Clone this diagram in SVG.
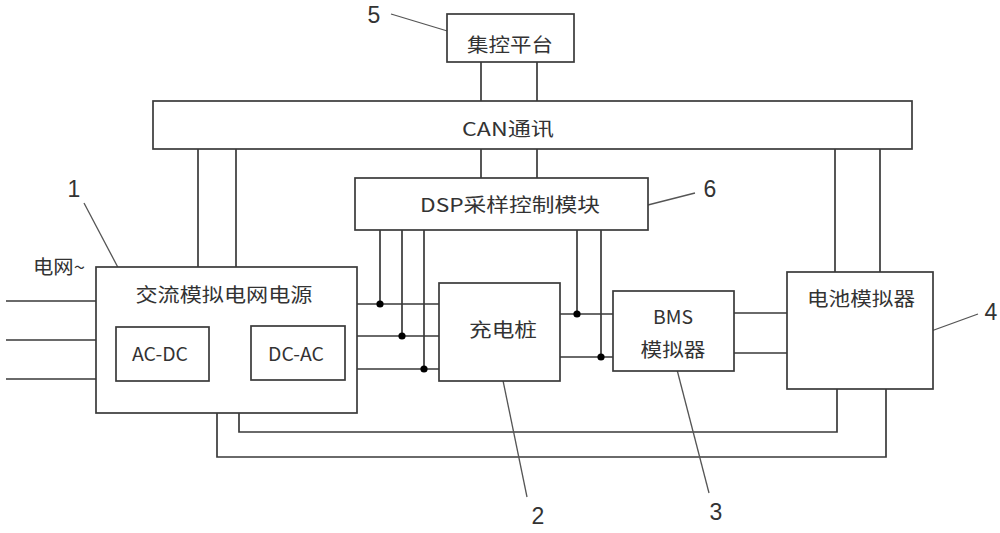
<svg xmlns="http://www.w3.org/2000/svg" width="1000" height="533" viewBox="0 0 1000 533">
<style>
.box{fill:#fff;stroke:#3a3a3a;stroke-width:1.7}
.ln{fill:none;stroke:#3a3a3a;stroke-width:1.7}
.ld{fill:none;stroke:#555;stroke-width:1.3}
.dot{fill:#000}
.t{font-family:"Noto Sans CJK SC","Liberation Sans",sans-serif;font-size:19px;fill:#333;text-anchor:middle;dominant-baseline:central}
.n{font-family:"Liberation Sans","DejaVu Sans",sans-serif;font-size:23px;fill:#333;text-anchor:middle;dominant-baseline:central}
</style>
<rect width="1000" height="533" fill="#fff"/>
<g id="connectors">
  <!-- grid input -->
  <path class="ln" d="M6 301H96M6 340H96M6 379H96"/>
  <!-- 集控 to CAN -->
  <path class="ln" d="M481 62V101M537 62V101"/>
  <!-- CAN to AC source -->
  <path class="ln" d="M198 149V267M236 149V267"/>
  <!-- CAN to DSP -->
  <path class="ln" d="M481 149V178M537 149V178"/>
  <!-- CAN to battery -->
  <path class="ln" d="M835 149V272M880 149V272"/>
  <!-- AC source to charger -->
  <path class="ln" d="M357 304H439M357 336H439M357 369H439"/>
  <!-- DSP to left bus -->
  <path class="ln" d="M380 230V304M402 230V336M424 230V369"/>
  <!-- charger to BMS -->
  <path class="ln" d="M560 314H613M560 357H613"/>
  <path class="ln" d="M577 230V314M601 230V357"/>
  <!-- BMS to battery -->
  <path class="ln" d="M734 313H787M734 353H787"/>
  <!-- AC-DC to DC-AC -->
  <path class="ln" d="M209 342H251M209 368H251"/>
  <!-- feedback to battery -->
  <path class="ln" d="M239 368V432H837V389"/>
  <path class="ln" d="M217 342V457H886V389"/>
  <g class="dot">
    <circle cx="380" cy="304" r="3.6"/>
    <circle cx="402" cy="336" r="3.6"/>
    <circle cx="424" cy="369" r="3.6"/>
    <circle cx="577" cy="314" r="3.6"/>
    <circle cx="601" cy="357" r="3.6"/>
    <circle cx="217" cy="342" r="3.6"/>
    <circle cx="239" cy="368" r="3.6"/>
  </g>
  <!-- leader lines -->
  <path class="ld" d="M391 14L454 33"/>
  <path class="ld" d="M84 203L123 277"/>
  <path class="ld" d="M500 366L527 497"/>
  <path class="ld" d="M675 362L709 493"/>
  <path class="ld" d="M923 334L978 314"/>
  <path class="ld" d="M640 207L695 193"/>
</g>
<g id="n5">
  <rect class="box" x="447" y="14" width="127" height="48"/>
  <text class="t" x="510" y="43" textLength="86" lengthAdjust="spacingAndGlyphs">集控平台</text>
  <text class="n" x="374" y="15">5</text>
</g>
<g id="can">
  <rect class="box" x="153" y="101" width="759" height="48"/>
  <text class="t" x="508" y="127" textLength="92" lengthAdjust="spacingAndGlyphs">CAN通讯</text>
</g>
<g id="n6">
  <rect class="box" x="355" y="178" width="293" height="52"/>
  <text class="t" x="510" y="203" textLength="180" lengthAdjust="spacingAndGlyphs">DSP采样控制模块</text>
  <text class="n" x="710" y="189">6</text>
</g>
<g id="grid">
  <text class="t" x="59" y="265" textLength="52" lengthAdjust="spacingAndGlyphs">电网~</text>
</g>
<g id="n1">
  <rect class="box" x="96" y="267" width="261" height="146"/>
  <text class="t" x="224" y="293" textLength="177" lengthAdjust="spacingAndGlyphs">交流模拟电网电源</text>
  <text class="n" x="74" y="189">1</text>
</g>
<g id="acdc">
  <rect class="box" x="116" y="327" width="93" height="54"/>
  <text class="t" x="160" y="352" textLength="56" lengthAdjust="spacingAndGlyphs">AC-DC</text>
</g>
<g id="dcac">
  <rect class="box" x="251" y="326" width="94" height="54"/>
  <text class="t" x="296" y="352" textLength="56" lengthAdjust="spacingAndGlyphs">DC-AC</text>
</g>
<g id="n2">
  <rect class="box" x="439" y="283" width="121" height="98"/>
  <text class="t" x="503" y="328" textLength="68" lengthAdjust="spacingAndGlyphs">充电桩</text>
  <text class="n" x="538" y="516">2</text>
</g>
<g id="n3">
  <rect class="box" x="613" y="291" width="121" height="80"/>
  <text class="t" x="673" y="315" textLength="40" lengthAdjust="spacingAndGlyphs">BMS</text>
  <text class="t" x="673" y="348" textLength="65" lengthAdjust="spacingAndGlyphs">模拟器</text>
  <text class="n" x="716" y="512">3</text>
</g>
<g id="n4">
  <rect class="box" x="787" y="272" width="146" height="117"/>
  <text class="t" x="861" y="297" textLength="108" lengthAdjust="spacingAndGlyphs">电池模拟器</text>
  <text class="n" x="991" y="312">4</text>
</g>
</svg>
